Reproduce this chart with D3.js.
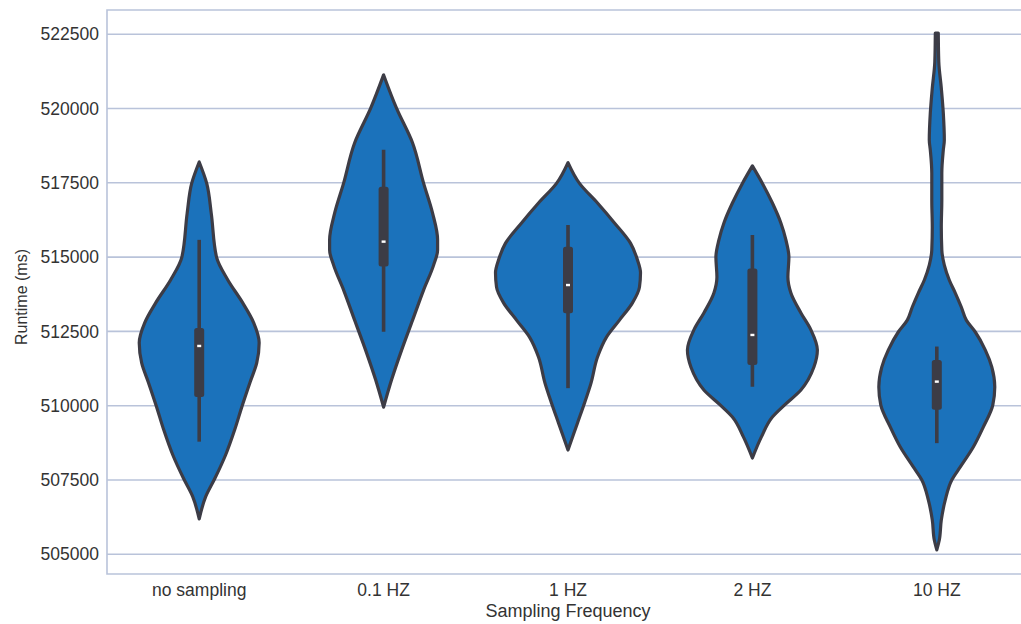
<!DOCTYPE html>
<html>
<head>
<meta charset="utf-8">
<script src="https://cdn.jsdelivr.net/npm/d3@7/dist/d3.min.js"></script>
<style>
  html, body { margin: 0; padding: 0; background: #ffffff; }
  svg { display: block; }
  text { font-family: "Liberation Sans", Arial, Helvetica, sans-serif; fill: #333333; }
</style>
</head>
<body>
<svg id="chart" width="1021" height="624"></svg>
<script>
// Sampling frequency groups
const categories = ["no sampling", "0.1 HZ", "1 HZ", "2 HZ", "10 HZ"];

// Kernel density profiles: runtime (ms) and relative density (0-100) per group
const noSamplingRuntime = [518200, 517480, 516480, 514980, 514240, 513460, 512790, 512120, 511440, 510800, 510000, 509190, 508350, 507540, 506940, 506190];
const noSamplingDensity = [0, 10.2, 16.3, 23.7, 38.6, 59.0, 73.9, 81.3, 78.0, 69.1, 58.3, 48.1, 35.9, 21.0, 8.8, 0];

const hz01Runtime = [521130, 520010, 518840, 517490, 516480, 515580, 515240, 514730, 513890, 512880, 511870, 510870, 509950];
const hz01Density = [0, 17.5, 39.3, 54.2, 66.4, 73.2, 73.2, 67.8, 54.2, 39.3, 24.4, 10.8, 0];

const hz1Runtime = [518180, 517480, 516820, 516150, 515470, 514900, 514470, 513990, 513460, 512880, 512310, 511640, 510760, 510090, 509420, 508510];
const hz1Density = [0, 15.6, 40.0, 63.0, 84.7, 94.2, 98.3, 96.9, 87.4, 69.8, 52.2, 40.0, 31.2, 22.4, 12.9, 0];

const hz2Runtime = [518070, 517480, 516820, 516150, 515580, 515000, 514330, 513790, 513120, 512550, 511870, 511300, 510530, 510020, 509620, 508950, 508240];
const hz2Density = [0, 13.6, 27.1, 38.6, 45.4, 49.5, 48.1, 52.2, 65.8, 79.3, 88.1, 83.4, 65.8, 43.4, 27.1, 12.2, 0];

const hz10Runtime = [522540, 521570, 520690, 519850, 518940, 518600, 517830, 516920, 516010, 515240, 514730, 514230, 513790, 513320, 512880, 512480, 511870, 511300, 510630, 510020, 509280, 508610, 507940, 507500, 506830, 506150, 505480, 505150];
const hz10Density = [2.0, 2.7, 6.1, 8.8, 10.2, 8.8, 6.8, 6.8, 6.1, 6.8, 10.2, 16.9, 25.1, 33.2, 40.0, 52.2, 65.8, 74.6, 78.6, 75.9, 63.0, 49.5, 31.9, 20.3, 11.5, 6.1, 3.4, 0];

// Box summary per group (ms)
const whiskerLow  = [508790, 512490, 510590, 510640, 508740];
const quartile1   = [510290, 514680, 513110, 511370, 509860];
const medians     = [512010, 515520, 514060, 512380, 510810];
const quartile3   = [512610, 517370, 515350, 514620, 511540];
const whiskerHigh = [515580, 518610, 516080, 515740, 511990];

// Y axis ticks
const yTicks = [505000, 507500, 510000, 512500, 515000, 517500, 520000, 522500];

const profiles = [
  { runtime: noSamplingRuntime, density: noSamplingDensity },
  { runtime: hz01Runtime, density: hz01Density },
  { runtime: hz1Runtime, density: hz1Density },
  { runtime: hz2Runtime, density: hz2Density },
  { runtime: hz10Runtime, density: hz10Density }
];

const svg = d3.select("#chart");
const margin = { left: 107, top: 10, right: 1029, bottom: 574 };

const x = d3.scaleBand().domain(categories).range([margin.left, margin.right]).padding(0);
const y = d3.scaleLinear().domain([504337, 523314]).range([margin.bottom, margin.top]);
const w = d3.scaleLinear().domain([0, 100]).range([0, x.bandwidth() * 0.4]);

const gridColor = "#b9c3da";
const violinFill = "#1b72bb";
const edgeColor = "#3c3c46";

// Gridlines
svg.append("g")
  .selectAll("line")
  .data(yTicks)
  .join("line")
  .attr("x1", margin.left)
  .attr("x2", margin.right)
  .attr("y1", d => y(d))
  .attr("y2", d => y(d))
  .attr("stroke", gridColor)
  .attr("stroke-width", 1.6);

// Frame (left, top, bottom spines)
svg.append("path")
  .attr("d", `M${margin.right},${margin.top}H${margin.left}V${margin.bottom}H${margin.right}`)
  .attr("fill", "none")
  .attr("stroke", gridColor)
  .attr("stroke-width", 1.6);

// Y axis
const yAxis = d3.axisLeft(y).tickValues(yTicks).tickSize(0).tickPadding(8).tickFormat(d3.format("d"));
const gy = svg.append("g").attr("transform", `translate(${margin.left},0)`).call(yAxis);
gy.select(".domain").remove();
gy.selectAll("text").style("font-size", "17.5px").attr("fill", "#333");

// X axis
const xAxis = d3.axisBottom(x).tickSize(0).tickPadding(10);
const gx = svg.append("g").attr("transform", `translate(0,${margin.bottom})`).call(xAxis);
gx.select(".domain").remove();
gx.selectAll("text").style("font-size", "17.5px").attr("fill", "#333");

// Axis titles
svg.append("text")
  .attr("x", (margin.left + margin.right) / 2)
  .attr("y", 617)
  .attr("text-anchor", "middle")
  .style("font-size", "18px")
  .text("Sampling Frequency");

svg.append("text")
  .attr("transform", "translate(27,297) rotate(-90)")
  .attr("text-anchor", "middle")
  .style("font-size", "16px")
  .text("Runtime (ms)");

// Violins
const area = d3.area()
  .curve(d3.curveMonotoneY)
  .y(d => y(d.v));

categories.forEach((cat, i) => {
  const cx = x(cat) + x.bandwidth() / 2;
  const pts = profiles[i].runtime
    .map((v, j) => ({ v, d: profiles[i].density[j] }))
    .sort((a, b) => a.v - b.v);
  svg.append("path")
    .datum(pts)
    .attr("d", area.x0(d => cx - w(d.d)).x1(d => cx + w(d.d)))
    .attr("fill", violinFill)
    .attr("stroke", edgeColor)
    .attr("stroke-width", 3.2)
    .attr("stroke-linejoin", "round");

  // whisker
  svg.append("line")
    .attr("x1", cx).attr("x2", cx)
    .attr("y1", y(whiskerLow[i])).attr("y2", y(whiskerHigh[i]))
    .attr("stroke", edgeColor)
    .attr("stroke-width", 3.6);

  // interquartile box
  svg.append("rect")
    .attr("x", cx - 5)
    .attr("width", 10)
    .attr("y", y(quartile3[i]))
    .attr("height", y(quartile1[i]) - y(quartile3[i]))
    .attr("rx", 2.5)
    .attr("fill", edgeColor);

  // median marker
  svg.append("rect")
    .attr("x", cx - 2)
    .attr("width", 4)
    .attr("y", y(medians[i]) - 1.2)
    .attr("height", 2.4)
    .attr("fill", "#ffffff");
});
</script>
</body>
</html>
